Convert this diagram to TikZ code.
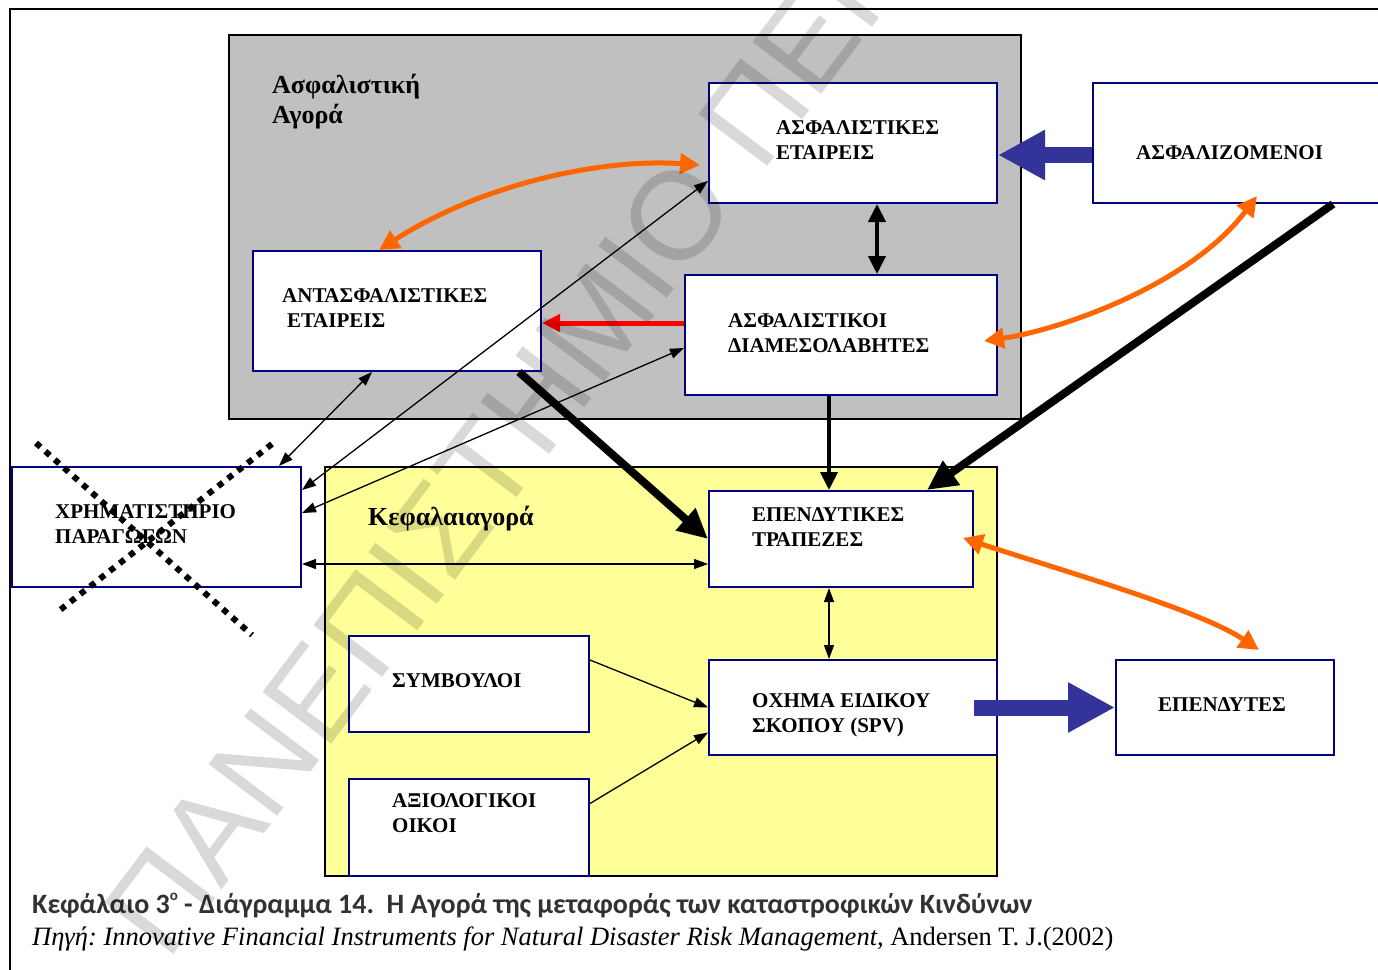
\documentclass[tikz,border=0pt]{standalone}
\usepackage{fontspec}
\setmainfont{Liberation Serif}
\newfontfamily\capfont{Carlito}
\newfontfamily\wmfont{Liberation Sans}
\usetikzlibrary{arrows.meta,calc}
\definecolor{navy}{RGB}{0,0,128}
\definecolor{grayfill}{RGB}{192,192,192}
\definecolor{yellowfill}{RGB}{255,255,153}
\definecolor{myorange}{RGB}{255,102,0}
\definecolor{myblue}{RGB}{51,51,153}
\definecolor{capgray}{RGB}{50,50,50}
\frenchspacing
\begin{document}
\begin{tikzpicture}[x=1pt,y=-1pt,
  region/.style={draw=black, line width=2pt, inner sep=0pt, anchor=north west},
  box/.style={draw=navy, line width=2pt, fill=white, inner sep=0pt, anchor=north west},
  boxtext/.style={font=\fontsize{21}{25}\selectfont\bfseries, align=left, inner sep=0pt, anchor=west},
  headtext/.style={font=\fontsize{26}{30}\selectfont\bfseries, inner sep=0pt, anchor=base west},
  thinline/.style={line width=1.3pt, >={Triangle[length=14pt,width=10pt]}},
  midline/.style={line width=4pt, >={Triangle[length=18pt,width=17pt]}},
  heavyline/.style={line width=8pt, >={Triangle[length=30pt,width=28pt]}},
  orangeline/.style={line width=5pt, draw=myorange, >={Triangle[length=20pt,width=20pt]}},
  redline/.style={line width=5pt, draw=red, >={Triangle[length=18pt,width=17pt]}},
  blueline/.style={line width=16pt, draw=myblue, >={Triangle[length=47pt,width=47pt]}},
  crossline/.style={line width=6pt, dash pattern=on 6pt off 6.5pt},
  wm/.style={anchor=base west, rotate=53, inner sep=0pt, text=black, text opacity=0.15,
     font=\wmfont\fontsize{125}{125}\selectfont}
]
\useasboundingbox (0,0) rectangle (1378,969);
\clip (0,0) rectangle (1378,969);
\fill[white] (0,0) rectangle (1378,969);
% outer frame
\draw[line width=2pt] (10,990) -- (10,9) -- (1400,9);

% regions
\node[region, fill=grayfill, minimum width=792pt, minimum height=384pt] (ins) at (228,34) {};
\node[region, fill=yellowfill, minimum width=672pt, minimum height=409pt] (cap) at (324,466) {};

\node[headtext] (h1) at (272,93) {Ασφαλιστική};
\node[headtext] (h2) at (272,123) {Αγορά};
\node[headtext] (h3) at (368,525) {Κεφαλαιαγορά};

% boxes
\node[box, minimum width=288pt, minimum height=120pt] (ae) at (708,82) {};
\node[box, minimum width=320pt, minimum height=120pt] (asf) at (1092,82) {};
\node[box, minimum width=288pt, minimum height=120pt] (ant) at (252,250) {};
\node[box, minimum width=312pt, minimum height=120pt] (ad) at (684,274) {};
\node[box, minimum width=289pt, minimum height=120pt] (xp) at (11,466) {};
\node[box, minimum width=264pt, minimum height=96pt] (et) at (708,490) {};
\node[box, minimum width=288pt, minimum height=95pt] (spv) at (708,659) {};
\node[box, minimum width=218pt, minimum height=95pt] (ep) at (1115,659) {};
\node[box, minimum width=240pt, minimum height=96pt] (sy) at (348,635) {};
\node[box, minimum width=240pt, minimum height=97pt] (ax) at (348,778) {};

% texts
\node[boxtext] (tae) at (776,140.5) {ΑΣΦΑΛΙΣΤΙΚΕΣ\\ΕΤΑΙΡΕΙΣ};
\node[boxtext] (tasf) at (1136,153) {ΑΣΦΑΛΙΖΟΜΕΝΟΙ};
\node[boxtext] (tad) at (728,333.5) {ΑΣΦΑΛΙΣΤΙΚΟΙ\\ΔΙΑΜΕΣΟΛΑΒΗΤΕΣ};
\node[boxtext] (tant) at (282,308.5) {ΑΝΤΑΣΦΑΛΙΣΤΙΚΕΣ\\\hspace*{5pt}ΕΤΑΙΡΕΙΣ};
\node[boxtext] (txp) at (55,524.5) {ΧΡΗΜΑΤΙΣΤΗΡΙΟ\\ΠΑΡΑΓΩΓΩΝ};
\node[boxtext] (tet) at (752,527.5) {ΕΠΕΝΔΥΤΙΚΕΣ\\ΤΡΑΠΕΖΕΣ};
\node[boxtext] (tspv) at (752,715) {ΟΧΗΜΑ ΕΙΔΙΚΟΥ\\ΣΚΟΠΟΥ (SPV)};
\node[boxtext] (tep) at (1158,705) {ΕΠΕΝΔΥΤΕΣ};
\node[boxtext] (tsy) at (392,681) {ΣΥΜΒΟΥΛΟΙ};
\node[boxtext] (tax) at (392,813) {ΑΞΙΟΛΟΓΙΚΟΙ\\ΟΙΚΟΙ};

% connectors
\draw[orangeline,<->] ([xshift=-18pt]ant.north) .. controls (480,185) and (600,158) .. ([xshift=-8pt,yshift=-22pt]ae.west);
\draw[redline,->] ([yshift=12pt]ad.west) -- ([yshift=-12pt]ant.east);
\coordinate (v1) at ([xshift=24pt]ae.south);
\draw[midline,<->] (v1) -- (v1 |- ad.north);
\draw[blueline,->] ([yshift=-12pt]asf.west) -- ([yshift=-12pt]ae.east);
\draw[orangeline,<->] ([xshift=-14pt,yshift=-6pt]ad.east) .. controls (1060,330) and (1190,285) .. ([xshift=4pt,yshift=8pt]asf.south);
\draw[heavyline,->] ([xshift=80pt]asf.south) -- ([xshift=86pt]et.north);
\coordinate (v2) at ([xshift=-12pt]ad.south);
\draw[midline,->] (v2) -- (v2 |- et.north);
\draw[heavyline,->] ([xshift=-23pt]ant.south east) -- (et.west);
\draw[thinline,<->] ([xshift=-23pt]xp.north east) -- ([xshift=-25pt]ant.south);
\draw[thinline,<->] ([yshift=-24pt]xp.north east) -- ([yshift=-38pt]ae.west);
\draw[thinline,<->] ([yshift=-47pt]xp.north east) -- ([yshift=-13pt]ad.west);
\coordinate (h) at ([yshift=-37pt]xp.east);
\draw[thinline,<->] (h) -- (h -| et.west);
\coordinate (v3) at ([xshift=-12pt]et.south);
\draw[thinline,<->] (v3) -- (v3 |- spv.north);
\draw[orangeline,<->] ([xshift=-11pt,yshift=1pt]et.east) .. controls (1060,570) and (1200,610) .. ([xshift=34pt,yshift=9pt]ep.north);
\draw[blueline,->] (et.east |- spv.center) -- (ep.west);
\draw[thinline,->] ([yshift=24pt]sy.east) -- (spv.west);
\draw[thinline,->] ([yshift=24pt]ax.east) -- ([yshift=-25pt]spv.west);

% crossing out
\coordinate (c1a) at (36,443);
\coordinate (c1b) at (252,635);
\coordinate (c2a) at (272,444);
\coordinate (c2b) at (60,610);
\draw[crossline] (c1a) -- (c1b);
\draw[crossline] (c2a) -- (c2b);

% caption
\node[anchor=base west, inner sep=0pt, text=capgray, font=\capfont\bfseries\fontsize{28}{32}\selectfont] (cap1) at (32,913)
  {Κεφάλαιο 3\raisebox{13pt}{\fontsize{15}{15}\selectfont o} - Διάγραμμα 14.~ Η Αγορά της μεταφοράς των καταστροφικών Κινδύνων};
\node[anchor=base west, inner sep=0pt, font=\fontsize{26.5}{30}\selectfont] (cap2) at (32,945)
  {\textit{Πηγή: Innovative Financial Instruments for Natural Disaster Risk Management,} Andersen T. J.(2002)};

% watermark
\node[wm] (wmark) at (167,963) {ΠΑΝΕΠΙΣΤΗΜΙΟ ΠΕΙΡΑΙΩΣ};
\end{tikzpicture}
\end{document}
